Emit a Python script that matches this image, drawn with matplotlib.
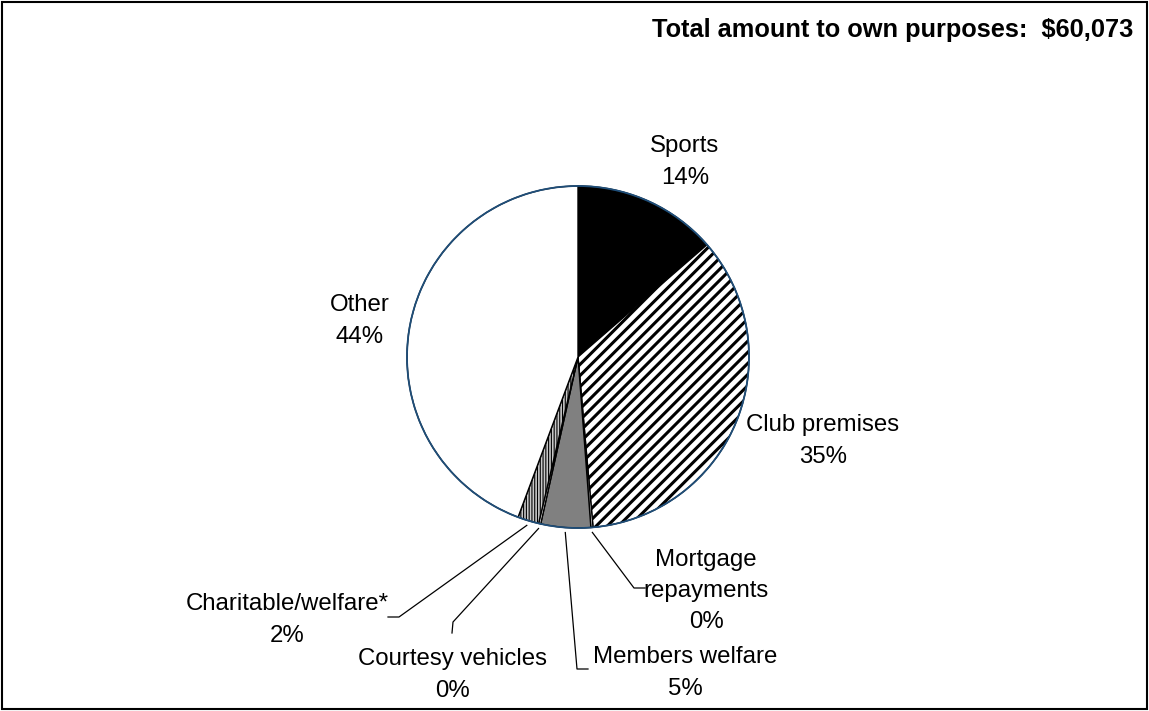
import numpy as np
import matplotlib.pyplot as plt
from matplotlib.patches import Circle, Rectangle

plt.rcParams['font.family'] = ['Liberation Sans', 'DejaVu Sans']

# share of spending (%) going clockwise from 12 o'clock
categories = ['Sports', 'Club premises', 'Mortgage\nrepayments', 'Members welfare',
              'Courtesy vehicles', 'Charitable/welfare*', 'Other']
shares = [13.6, 35.0, 0.2, 4.7, 0.2, 2.0, 44.3]
total_text = 'Total amount to own purposes:  $60,073'

W, H = 1149, 711
fig = plt.figure(figsize=(W / 100, H / 100), dpi=100)
ax = fig.add_axes([0, 0, 1, 1])

def px(x, y):
    # screen-style coords (y down from top) -> axes coords
    return x, H - y

cx, cy = px(578, 357)
r = 171

colors = ['black', 'white', 'white', '#808080', 'white', '#c8c8c8', 'white']
hatches = [None, '///', None, None, None, '||||||', None]
hatch_lw = [None, 2.2, None, None, None, 0.8, None]

wedges, _ = ax.pie(shares, center=(cx, cy), radius=r, startangle=90,
                   counterclock=False, colors=colors,
                   wedgeprops=dict(edgecolor='black', linewidth=1.0))
for w, h, lw in zip(wedges, hatches, hatch_lw):
    if h:
        w.set_hatch(h)
        if hasattr(w, 'set_hatch_linewidth'):
            w.set_hatch_linewidth(lw)
        else:
            w._hatch_linewidth = lw
ax.add_patch(Circle((cx, cy), r, fill=False, edgecolor='#1f4e79', linewidth=1.3, zorder=5))
ax.set_xlim(0, W)
ax.set_ylim(0, H)
ax.set_aspect('auto')
ax.axis('off')

# label placement: text centre, and for leader lines the elbow + end point
label_pos = {
    'Sports': (685, 162),
    'Club premises': (823, 441),
    'Mortgage\nrepayments': (706, 591),
    'Members welfare': (685, 673),
    'Courtesy vehicles': (452, 675),
    'Charitable/welfare*': (287, 620),
    'Other': (360, 321),
}
leaders = {
    'Mortgage\nrepayments': [(634, 588), (645, 588)],
    'Members welfare': [(577, 669), (588, 669)],
    'Courtesy vehicles': [(453, 622), (452, 633)],
    'Charitable/welfare*': [(399, 617), (388, 617)],
}

for w, name, val in zip(wedges, categories, shares):
    tx, ty = px(*label_pos[name])
    ax.text(tx, ty, f'{name}\n{round(val)}%', ha='center', va='center',
            fontsize=17.3, linespacing=1.55, color='black')
    if name in leaders:
        mid = np.deg2rad((w.theta1 + w.theta2) / 2)
        sx = cx + (r + 5) * np.cos(mid)
        sy = cy + (r + 5) * np.sin(mid)
        pts = [(sx, sy)] + [px(*p) for p in leaders[name]]
        xs, ys = zip(*pts)
        ax.plot(xs, ys, color='black', linewidth=0.9)

ax.text(*px(1133, 30), total_text, ha='right', va='center',
        fontsize=18.3, fontweight='bold')

fig.patches.append(Rectangle((0.002, 0.003), 0.996, 0.994, transform=fig.transFigure,
                             fill=False, edgecolor='black', linewidth=1.5))

fig.savefig('out.png', dpi=100)
